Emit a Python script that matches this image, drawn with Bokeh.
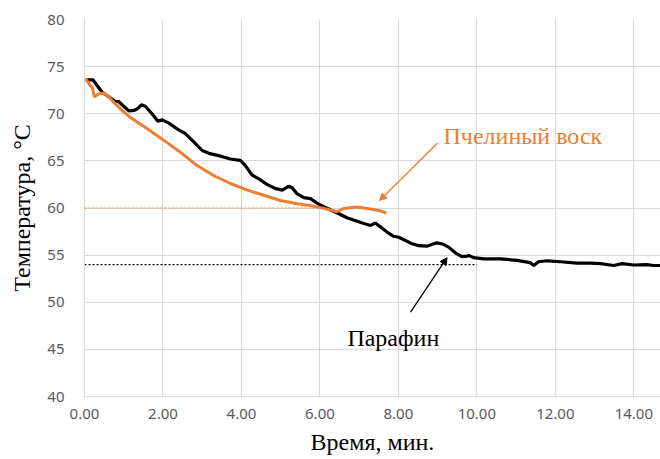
from bokeh.plotting import figure
from bokeh.models import FixedTicker, PrintfTickFormatter, Label, Arrow, NormalHead
from bokeh.embed import file_html
from bokeh.resources import INLINE

# Paraffin (black) cooling curve: time, min / temperature, °C
paraffin_t = [0.05, 0.22, 0.32, 0.45, 0.62, 0.79, 0.87, 1.0, 1.13, 1.26, 1.34, 1.45, 1.55, 1.72, 1.87,
              1.98, 2.15, 2.36, 2.57, 2.79, 3.0, 3.17, 3.47, 3.72, 3.97, 4.1, 4.27, 4.44, 4.65, 4.87,
              5.04, 5.2, 5.29, 5.42, 5.59, 5.76, 5.97, 6.22, 6.43, 6.69, 6.95, 7.16, 7.29, 7.41, 7.54,
              7.71, 7.88, 8.01, 8.18, 8.35, 8.52, 8.73, 8.86, 8.98, 9.15, 9.28, 9.45, 9.62, 9.75, 9.79,
              9.92, 10.18, 10.6, 11.02, 11.36, 11.45, 11.57, 11.79, 12.13, 12.55, 12.89, 13.15, 13.49,
              13.7, 14.0, 14.33, 14.5, 14.68]
paraffin_T = [73.6, 73.6, 73.0, 72.3, 71.8, 71.3, 71.3, 70.8, 70.3, 70.35, 70.5, 70.95, 70.8, 70.0, 69.2,
              69.35, 69.0, 68.4, 67.9, 67.0, 66.1, 65.8, 65.5, 65.2, 65.05, 64.5, 63.5, 63.1, 62.5, 62.05,
              61.9, 62.3, 62.15, 61.5, 61.1, 61.0, 60.4, 59.9, 59.5, 58.97, 58.6, 58.3, 58.15, 58.4, 58.0,
              57.45, 57.0, 56.9, 56.55, 56.2, 56.0, 55.95, 56.15, 56.3, 56.15, 55.85, 55.25, 54.85, 54.9, 54.97,
              54.73, 54.6, 54.6, 54.45, 54.2, 53.9, 54.3, 54.4, 54.3, 54.15, 54.15, 54.1, 53.9,
              54.1, 53.95, 54.0, 53.9, 53.9]

# Beeswax (orange) cooling curve
wax_t = [0.0, 0.05, 0.14, 0.2, 0.25, 0.36, 0.49, 0.62, 0.75, 0.92, 1.17, 1.6, 2.02, 2.45, 2.87, 3.29,
         3.72, 4.15, 4.57, 4.99, 5.42, 5.84, 6.27, 6.43, 6.6, 6.94, 7.29, 7.54, 7.69]
wax_T = [73.6, 73.6, 73.0, 72.8, 71.8, 72.1, 72.2, 71.8, 71.2, 70.5, 69.6, 68.4, 67.2, 65.9, 64.5, 63.45,
         62.6, 61.9, 61.35, 60.8, 60.45, 60.2, 59.8, 59.6, 59.95, 60.1, 59.9, 59.7, 59.45]

# Crystallisation plateau reference levels
wax_level_t = [0.0, 6.3]
wax_level_T = [60, 60]
paraffin_level_t = [0.0, 10.0]
paraffin_level_T = [54, 54]

x_ticks = [0, 2, 4, 6, 8, 10, 12, 14]
y_ticks = [40, 45, 50, 55, 60, 65, 70, 75, 80]

ORANGE = "#ED7D31"
GRID = "#D9D9D9"
SERIF = "Liberation Serif"

p = figure(width=660, height=458, x_range=(0, 14.68), y_range=(40, 80),
           output_backend="svg", toolbar_location=None,
           min_border_left=84, min_border_right=0, min_border_top=19, min_border_bottom=62)
p.outline_line_color = None
p.background_fill_color = "white"
p.border_fill_color = "white"

p.xaxis.ticker = FixedTicker(ticks=x_ticks)
p.yaxis.ticker = FixedTicker(ticks=y_ticks)
p.xaxis.formatter = PrintfTickFormatter(format="%.2f")
p.yaxis.formatter = PrintfTickFormatter(format="%d")
p.xgrid.grid_line_color = GRID
p.ygrid.grid_line_color = GRID

for ax in (p.xaxis, p.yaxis):
    ax.axis_line_color = GRID
    ax.major_tick_line_color = None
    ax.minor_tick_line_color = None
    ax.major_label_text_font = "Noto Sans"
    ax.major_label_text_font_size = "15px"
    ax.major_label_text_color = "#595959"
    ax.axis_label_text_font = SERIF
    ax.axis_label_text_font_size = "24px"
    ax.axis_label_text_font_style = "normal"
    ax.axis_label_text_color = "black"

p.xaxis.axis_label = "Время, мин."
p.yaxis.axis_label = "Температура, °C"
p.xaxis.major_label_standoff = 6
p.yaxis.major_label_standoff = 14
p.xaxis.axis_label_standoff = 7
p.yaxis.axis_label_standoff = 9

p.line(wax_level_t, wax_level_T, line_color=ORANGE, line_width=1.2, line_dash="2 2")
p.line(paraffin_level_t, paraffin_level_T, line_color="black", line_width=1.2, line_dash="2 2")

p.line(paraffin_t, paraffin_T, line_color="black", line_width=3.2)
p.line(wax_t, wax_T, line_color=ORANGE, line_width=3)

p.add_layout(Arrow(end=NormalHead(size=7, fill_color=ORANGE, line_color=ORANGE),
                   x_start=9.0, y_start=66.9, x_end=7.52, y_end=60.8,
                   line_color=ORANGE, line_width=1.3))
p.add_layout(Arrow(end=NormalHead(size=7, fill_color="black", line_color="black"),
                   x_start=8.31, y_start=48.96, x_end=9.24, y_end=54.73,
                   line_color="black", line_width=1.3))

p.add_layout(Label(x=9.15, y=67.6, text="Пчелиный воск", text_font=SERIF,
                   text_font_size="24px", text_color=ORANGE, text_baseline="alphabetic"))
p.add_layout(Label(x=6.70, y=46.17, text="Парафин", text_font=SERIF,
                   text_font_size="24px", text_color="black", text_baseline="alphabetic"))

open("out.html", "w").write(file_html(p, INLINE))
